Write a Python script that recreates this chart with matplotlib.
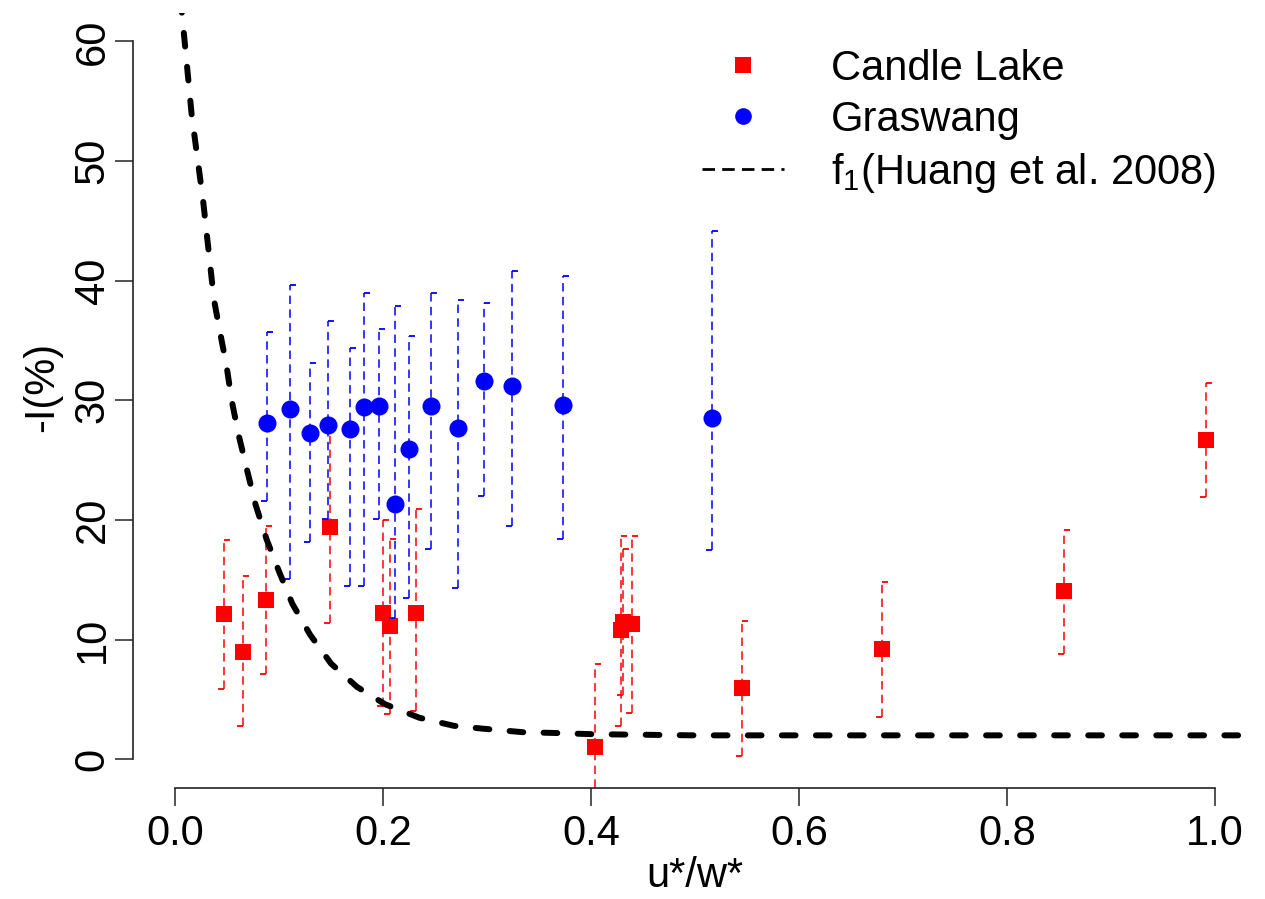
import matplotlib
matplotlib.use("Agg")
import matplotlib.pyplot as plt
from matplotlib.lines import Line2D
from matplotlib.path import Path

plt.rcParams['font.family'] = ['Liberation Sans', 'DejaVu Sans']
plt.rcParams['mathtext.default'] = 'regular'

# Candle Lake (red squares): u*/w*, -I(%) and error bar ends
cl_x = [0.047, 0.0654, 0.0875, 0.149, 0.1997, 0.2067, 0.2317, 0.404,
        0.4288, 0.4310, 0.4397, 0.5448, 0.6797, 0.8548, 0.9913]
cl_y = [12.15, 8.97, 13.3, 19.44, 12.25, 11.1, 12.25, 1.05,
        10.8, 11.46, 11.3, 5.97, 9.23, 14.09, 26.72]
cl_hi = [18.3, 15.3, 19.5, 27.5, 20.0, 18.4, 20.9, 7.95,
         18.67, 17.6, 18.67, 11.57, 14.84, 19.16, 31.43]
cl_lo = [5.9, 2.8, 7.1, 11.4, 4.45, 3.77, 4.0, -5.85,
         2.8, 5.35, 3.9, 0.25, 3.54, 8.79, 21.93]

# Graswang (blue circles)
gw_x = [0.0885, 0.1106, 0.1298, 0.1468, 0.168, 0.182, 0.1965, 0.2115,
        0.2253, 0.246, 0.272, 0.297, 0.3237, 0.3734, 0.516]
gw_y = [28.1, 29.26, 27.3, 27.95, 27.6, 29.4, 29.5, 21.3,
        25.9, 29.5, 27.7, 31.6, 31.2, 29.6, 28.56]
gw_hi = [35.75, 39.6, 33.1, 36.6, 34.4, 39.0, 36.0, 37.9,
         35.4, 39.0, 38.4, 38.1, 40.8, 40.35, 44.18]
gw_lo = [21.6, 15.06, 18.2, 20.05, 14.5, 14.5, 20.1, 11.8,
         13.5, 17.6, 14.35, 22.0, 19.5, 18.4, 17.49]

# f1 curve (Huang et al. 2008)
f1_x = [0.005, 0.0064, 0.016, 0.027, 0.0375, 0.0433, 0.0497, 0.0545, 0.0612,
        0.0692, 0.0774, 0.088, 0.100, 0.1128, 0.130, 0.150, 0.175, 0.202,
        0.235, 0.268, 0.297, 0.335, 0.365, 0.40, 0.45, 0.50, 0.60, 0.80, 1.04]
f1_y = [64.0, 62.6, 53.9, 46.7, 38.4, 35.7, 32.8, 30.0, 27.1,
        24.2, 21.3, 18.4, 15.7, 13.0, 10.4, 8.0, 6.05, 4.6,
        3.47, 2.8, 2.55, 2.26, 2.2, 2.1, 2.05, 2.0, 2.0, 2.0, 2.0]

x_ticks = [0.0, 0.2, 0.4, 0.6, 0.8, 1.0]
y_ticks = [0, 10, 20, 30, 40, 50, 60]

red = '#ff0000'
blue = '#0000ff'
err_ls = (0, (5.5, 3.5))
cap_up = Path([(0, 0), (1, 0)])     # cap drawn to the right
cap_down = Path([(-1, 0), (0, 0)])  # cap drawn to the left

fig = plt.figure(figsize=(12.65, 8.99), dpi=100)
ax = fig.add_axes([0.10545, 0.12347, 0.8879, 0.8625])

# error bars + points
for xs, ys, lo, hi, col, mk, ms in [(cl_x, cl_y, cl_lo, cl_hi, red, 's', 11.5),
                                     (gw_x, gw_y, gw_lo, gw_hi, blue, 'o', 13)]:
    ax.vlines(xs, lo, hi, colors=col, linestyles=err_ls, lw=1.1)
    ax.plot(xs, hi, ls='none', marker=cap_up, ms=8.6, mew=1.3, mec=col, mfc='none')
    ax.plot(xs, lo, ls='none', marker=cap_down, ms=8.6, mew=1.3, mec=col, mfc='none')
    ax.plot(xs, ys, ls='none', marker=mk, ms=ms, color=col, mew=0)

ax.plot(f1_x, f1_y, color='black', lw=4.3, ls=(0, (2.3, 3.4)), dash_capstyle='round')

ax.set_xlim(-0.04, 1.04)
ax.set_ylim(-2.4, 62.4)
ax.set_xticks(x_ticks)
ax.set_xticklabels(['%.1f' % t for t in x_ticks])
ax.set_yticks(y_ticks)
ax.set_yticklabels([str(t) for t in y_ticks], rotation=90, va='center')

for s in ['top', 'right']:
    ax.spines[s].set_visible(False)
ax.spines['left'].set_bounds(0, 60)
ax.spines['bottom'].set_bounds(0, 1)
for s in ['left', 'bottom']:
    ax.spines[s].set_linewidth(1.2)
    ax.spines[s].set_color('#222222')
ax.tick_params(axis='both', direction='out', length=13, width=1.1,
               labelsize=30, color='#222222')
ax.tick_params(axis='x', pad=6)
ax.tick_params(axis='y', pad=2)

fig.text(695 / 1265, 1 - 876 / 899, 'u*/w*', fontsize=30, ha='center', va='center')
fig.text(42 / 1265, 1 - 387 / 899, '-I(%)', fontsize=30, ha='center', va='center',
         rotation=90)

handles = [
    Line2D([], [], ls='none', marker='s', ms=11, color=red, mew=0),
    Line2D([], [], ls='none', marker='o', ms=12, color=blue, mew=0),
    Line2D([], [], color='black', lw=2, ls=(0, (4.5, 2.6))),
]
labels = ['Candle Lake', 'Graswang', 'f$_1$(Huang et al. 2008)']
ax.legend(handles, labels, loc='upper left', bbox_to_anchor=(702 / 1265, 1 - 49 / 899),
          bbox_transform=fig.transFigure, frameon=False, fontsize=30,
          handlelength=1.97, handletextpad=1.13, labelspacing=0.26,
          borderpad=0, borderaxespad=0)

fig.savefig('out.png', dpi=100)
